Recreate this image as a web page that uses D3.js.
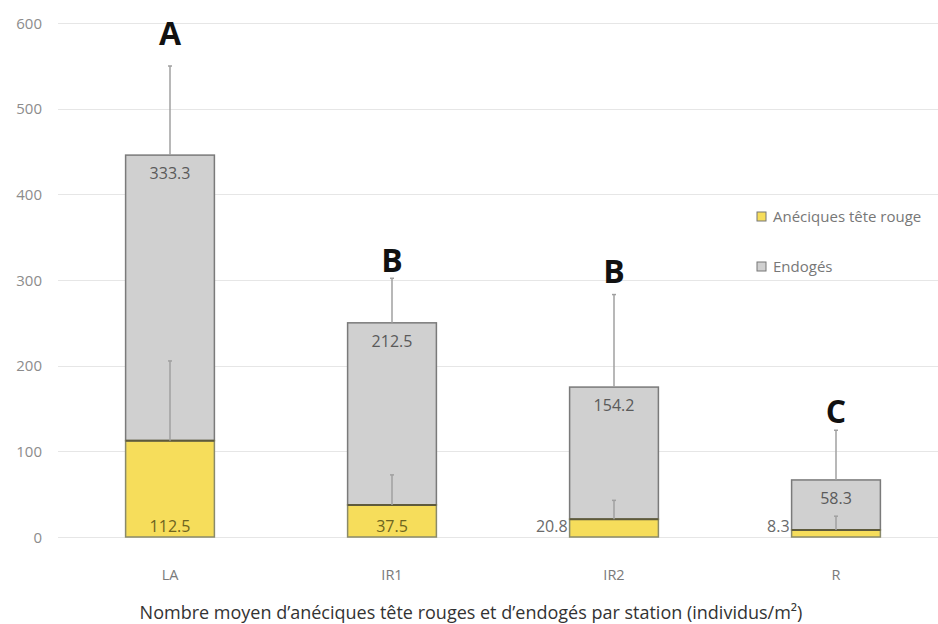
<!DOCTYPE html>
<html><head><meta charset="utf-8">
<script src="https://cdn.jsdelivr.net/npm/d3@7"></script>
<style>body{margin:0;background:#fff}svg{display:block}</style>
</head><body>
<svg id="c" width="938" height="624"></svg>
<script>
const stations = ["LA", "IR1", "IR2", "R"];
const aneciques = [112.5, 37.5, 20.8, 8.3];
const endoges = [333.3, 212.5, 154.2, 58.3];
const errAneciques = [93, 35, 22, 16];
const errEndoges = [104, 52, 108, 58];
const letters = ["A", "B", "B", "C"];
const letterLevel = [574, 309, 296, 133];
const yTicks = [0, 100, 200, 300, 400, 500, 600];
const seriesNames = ["Anéciques tête rouge", "Endogés"];
const xTitle = "Nombre moyen d\u2019anéciques tête rouges et d\u2019endogés par station (individus/m²)";

const svg = d3.select("#c");
const y = d3.scaleLinear().domain([0, 600]).range([537, 23]);
const x = d3.scaleBand().domain(stations).range([59, 947]).paddingInner(0.6).paddingOuter(0.3);
const font = "'Open Sans', 'Noto Sans', sans-serif";

// grid
svg.append("g").selectAll("line").data(yTicks).join("line")
  .attr("x1", 58).attr("x2", 938)
  .attr("y1", d => Math.round(y(d)) + 0.5).attr("y2", d => Math.round(y(d)) + 0.5)
  .attr("stroke", "#e6e6e6").attr("stroke-width", 1);

// y tick labels
svg.append("g").selectAll("text").data(yTicks).join("text")
  .attr("x", 42).attr("y", d => y(d) + 5.5).attr("text-anchor", "end")
  .attr("font-family", font).attr("font-size", 15).attr("fill", "#8c8c8c")
  .text(d => d);

const bw = x.bandwidth();
const g = svg.append("g");
// endogés segment
g.selectAll("rect.endo").data(stations).join("rect").attr("class", "endo")
  .attr("x", d => x(d)).attr("width", bw)
  .attr("y", (d, i) => y(aneciques[i] + endoges[i]))
  .attr("height", (d, i) => y(aneciques[i]) - y(aneciques[i] + endoges[i]))
  .attr("fill", "#d0d0d0").attr("stroke", "#7a7a7a").attr("stroke-width", 1.5);
// anéciques segment
g.selectAll("rect.ane").data(stations).join("rect").attr("class", "ane")
  .attr("x", d => x(d)).attr("width", bw)
  .attr("y", (d, i) => y(aneciques[i]))
  .attr("height", (d, i) => y(0) - y(aneciques[i]))
  .attr("fill", "#f6dd5b").attr("stroke", "#8a8a6a").attr("stroke-width", 1.5);
// separator line
g.selectAll("line.sep").data(stations).join("line").attr("class", "sep")
  .attr("x1", d => x(d)).attr("x2", d => x(d) + bw)
  .attr("y1", (d, i) => y(aneciques[i])).attr("y2", (d, i) => y(aneciques[i]))
  .attr("stroke", "#5e5a3c").attr("stroke-width", 2);

// error bars
const ex = d => x(d) + bw / 2;
const errColor = "#a0a0a0";
g.selectAll("line.ea").data(stations).join("line").attr("class", "ea")
  .attr("x1", ex).attr("x2", ex)
  .attr("y1", (d, i) => y(aneciques[i])).attr("y2", (d, i) => y(aneciques[i] + errAneciques[i]))
  .attr("stroke", errColor).attr("stroke-width", 1.5);
g.selectAll("line.ee").data(stations).join("line").attr("class", "ee")
  .attr("x1", ex).attr("x2", ex)
  .attr("y1", (d, i) => y(aneciques[i] + endoges[i])).attr("y2", (d, i) => y(aneciques[i] + endoges[i] + errEndoges[i]))
  .attr("stroke", errColor).attr("stroke-width", 1.5);
// tiny caps
g.selectAll("line.ca").data(stations).join("line").attr("class", "ca")
  .attr("x1", d => ex(d) - 2).attr("x2", d => ex(d) + 2)
  .attr("y1", (d, i) => y(aneciques[i] + errAneciques[i])).attr("y2", (d, i) => y(aneciques[i] + errAneciques[i]))
  .attr("stroke", errColor).attr("stroke-width", 1.5);
g.selectAll("line.ce").data(stations).join("line").attr("class", "ce")
  .attr("x1", d => ex(d) - 2).attr("x2", d => ex(d) + 2)
  .attr("y1", (d, i) => y(aneciques[i] + endoges[i] + errEndoges[i])).attr("y2", (d, i) => y(aneciques[i] + endoges[i] + errEndoges[i]))
  .attr("stroke", errColor).attr("stroke-width", 1.5);

// value labels endogés
g.selectAll("text.ve").data(stations).join("text").attr("class", "ve")
  .attr("x", ex).attr("y", (d, i) => y(aneciques[i] + endoges[i]) + 24)
  .attr("text-anchor", "middle").attr("font-family", font).attr("font-size", 16).attr("fill", "#5a5a5a")
  .text((d, i) => endoges[i].toFixed(1));
// value labels anéciques
g.selectAll("text.va").data(stations).join("text").attr("class", "va")
  .attr("x", (d, i) => aneciques[i] > 30 ? ex(d) : x(d) - 2)
  .attr("y", y(0) - 5)
  .attr("text-anchor", (d, i) => aneciques[i] > 30 ? "middle" : "end")
  .attr("font-family", font).attr("font-size", 16)
  .attr("fill", (d, i) => aneciques[i] > 30 ? "#6e6420" : "#6a6a6a")
  .text((d, i) => aneciques[i].toFixed(1));

// letters
g.selectAll("text.lt").data(stations).join("text").attr("class", "lt")
  .attr("x", ex).attr("y", (d, i) => y(letterLevel[i]))
  .attr("text-anchor", "middle").attr("font-family", font).attr("font-weight", "bold")
  .attr("font-size", 32).attr("fill", "#111")
  .text((d, i) => letters[i]);

// x labels
svg.append("g").selectAll("text").data(stations).join("text")
  .attr("x", ex).attr("y", 580).attr("text-anchor", "middle")
  .attr("font-family", font).attr("font-size", 14.5).attr("fill", "#7a7a7a")
  .text(d => d);

// x title
svg.append("text").attr("x", 471).attr("y", 619).attr("text-anchor", "middle")
  .attr("font-family", font).attr("font-size", 18).attr("fill", "#333")
  .text(xTitle);

// legend
const legColors = ["#f6dd5b", "#d0d0d0"];
const leg = svg.append("g");
leg.selectAll("rect").data(seriesNames).join("rect")
  .attr("x", 757).attr("y", (d, i) => 212 + i * 50).attr("width", 9).attr("height", 9)
  .attr("fill", (d, i) => legColors[i]).attr("stroke", "#777").attr("stroke-width", 1);
leg.selectAll("text").data(seriesNames).join("text")
  .attr("x", 773).attr("y", (d, i) => 222 + i * 50)
  .attr("font-family", font).attr("font-size", 15).attr("fill", "#777")
  .text(d => d);
</script>
</body></html>
